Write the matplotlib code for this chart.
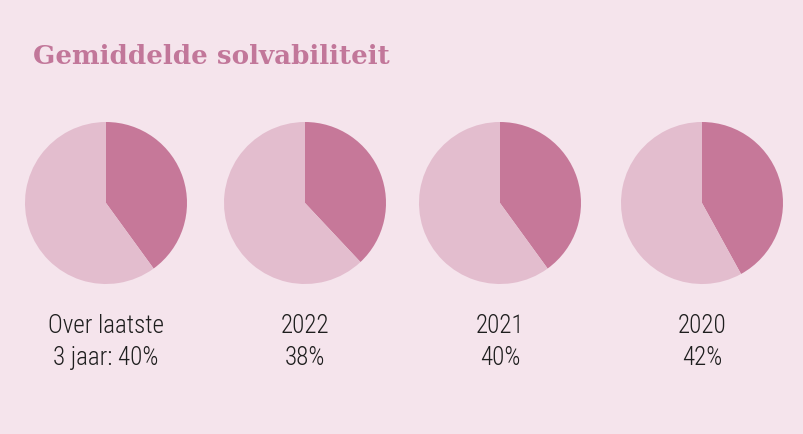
import matplotlib.pyplot as plt
from matplotlib import font_manager

# Gegevens
labels = ["Over laatste\n3 jaar: 40%", "2022\n38%", "2021\n40%", "2020\n42%"]
waarden = [40, 38, 40, 42]
centra_x = [106, 305, 500, 702]  # pixel-middens van de taarten

achtergrond = "#F5E4EC"
donker = "#C67899"
licht = "#E3BDCE"
titelkleur = "#C2779A"

W, H = 804, 434
fig = plt.figure(figsize=(W / 100, H / 100), dpi=100, facecolor=achtergrond)

namen = sorted({f.name for f in font_manager.fontManager.ttflist})
smal = next((n for n in ["Roboto Condensed", "Liberation Sans Narrow", "Roboto"] if n in namen), "DejaVu Sans")

fig.text(33 / W, 1 - 57 / H, "Gemiddelde solvabiliteit", fontsize=18.8,
         fontweight="bold", family=["DejaVu Serif"],
         color=titelkleur, ha="left", va="center")

r = 81
cy = 203
for lab, v, cx in zip(labels, waarden, centra_x):
    ax = fig.add_axes([(cx - r) / W, 1 - (cy + r) / H, 2 * r / W, 2 * r / H])
    ax.pie([v, 100 - v], colors=[donker, licht], startangle=90,
           counterclock=False, wedgeprops=dict(linewidth=0))
    ax.set_aspect("equal")
    ax.set_xlim(-1, 1)
    ax.set_ylim(-1, 1)
    regels = lab.split("\n")
    for regel, y in zip(regels, [326, 358]):
        fig.text(cx / W, 1 - y / H, regel, fontsize=18, fontweight="light",
                 family=[smal, "DejaVu Sans"], color="#1E1E1E",
                 ha="center", va="center")

fig.savefig("out.png", dpi=100, facecolor=achtergrond)
